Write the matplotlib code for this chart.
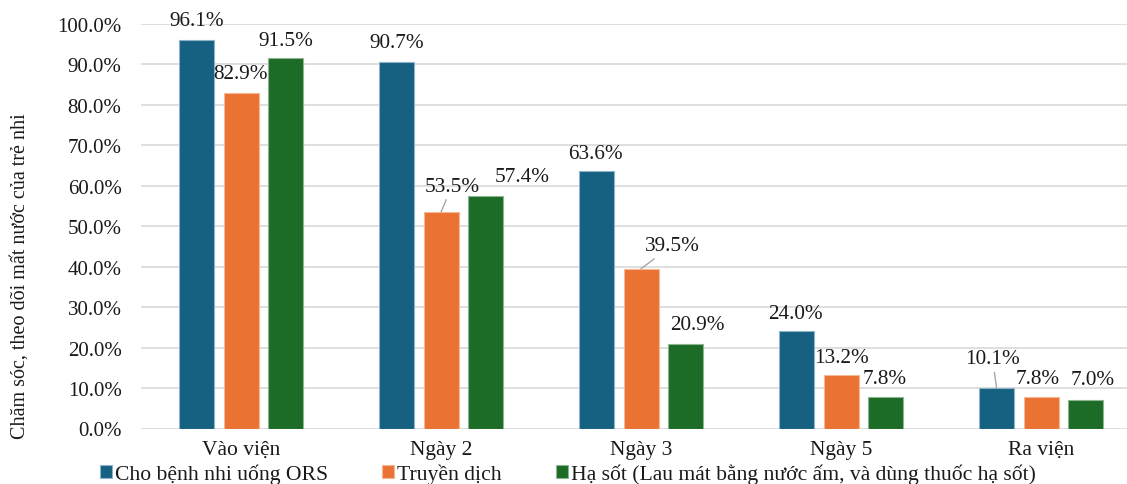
import matplotlib
matplotlib.use('Agg')
import numpy as np
import matplotlib.pyplot as plt

plt.rcParams['font.family'] = ['Liberation Serif', 'DejaVu Serif']

categories = ['Vào viện', 'Ngày 2', 'Ngày 3', 'Ngày 5', 'Ra viện']
series_names = ['Cho bệnh nhi uống ORS', 'Truyền dịch',
                'Hạ sốt (Lau mát bằng nước ấm, và dùng thuốc hạ sốt)']
ors = [96.1, 90.7, 63.6, 24.0, 10.1]
truyen_dich = [82.9, 53.5, 39.5, 13.2, 7.8]
ha_sot = [91.5, 57.4, 20.9, 7.8, 7.0]
yticks = [0, 10, 20, 30, 40, 50, 60, 70, 80, 90, 100]

colors = ['#166082', '#EA7233', '#1C6B27']
edge_colors = ['#8FB3C6', '#F6B894', '#8DB592']

# label offsets (pixels) from the top of each bar, and whether a leader line is drawn
label_offsets = [
    [(0, 19), (0, 20), (0, 18)],
    [(0, 19), (11, 26), (37, 20)],
    [(-1, 18), (31, 23), (12, 19)],
    [(-1, 18), (0, 18), (-1, 18)],
    [(-4, 29), (-3, 18), (7, 21)],
]
leaders = {(1, 1), (2, 1), (4, 0)}

W, H = 1127, 485
fig = plt.figure(figsize=(W / 100, H / 100), dpi=100)
ax = fig.add_axes([141 / W, (H - 429.5) / H, 1000 / W, 404.5 / H])

x = np.arange(len(categories))
bw = 0.175
step = 0.2225
all_series = [ors, truyen_dich, ha_sot]
for s, vals in enumerate(all_series):
    pos = x + (s - 1) * step
    ax.bar(pos, vals, width=bw, color=colors[s], edgecolor=edge_colors[s],
           linewidth=0.8, label=series_names[s], zorder=3)
    for g, v in enumerate(vals):
        dx, dy = label_offsets[g][s]
        arrow = None
        if (g, s) in leaders:
            arrow = dict(arrowstyle='-', color='#A6A6A6', lw=1.0,
                         shrinkA=1, shrinkB=0)
        ax.annotate(f'{v:.1f}%', xy=(pos[g], v), xytext=(dx, dy),
                    textcoords='offset pixels', ha='center', va='center',
                    fontsize=15.3, color='#1a1a1a', annotation_clip=False,
                    arrowprops=arrow, zorder=4)

ax.set_xlim(-0.5, len(categories) - 0.5)
ax.set_ylim(0, 100)
ax.set_yticks(yticks)
ax.set_yticklabels([f'{t:.1f}%' for t in yticks], fontsize=15)
ax.set_xticks(x)
ax.set_xticklabels(categories, fontsize=15.5)
ax.tick_params(axis='both', length=0, colors='#1a1a1a')
ax.tick_params(axis='y', pad=14)
ax.tick_params(axis='x', pad=8)
ax.grid(axis='y', color='#D9D9D9', linewidth=1.2, zorder=0)
ax.set_axisbelow(True)
for sp in ax.spines.values():
    sp.set_visible(False)

fig.text(20 / W, 1 - 276 / H, 'Chăm sóc, theo dõi mất nước của trẻ nhi',
         rotation=90, ha='center', va='center', fontsize=14.5, color='#1a1a1a')

leg = fig.legend(loc='center', bbox_to_anchor=(568 / W, 1 - 475 / H), ncol=3,
                 frameon=False, fontsize=15.6, handlelength=0.55, handleheight=0.55,
                 handletextpad=0.15, columnspacing=2.5, borderpad=0, borderaxespad=0)
for t in leg.get_texts():
    t.set_color('#1a1a1a')

fig.savefig('out.png', dpi=100)
